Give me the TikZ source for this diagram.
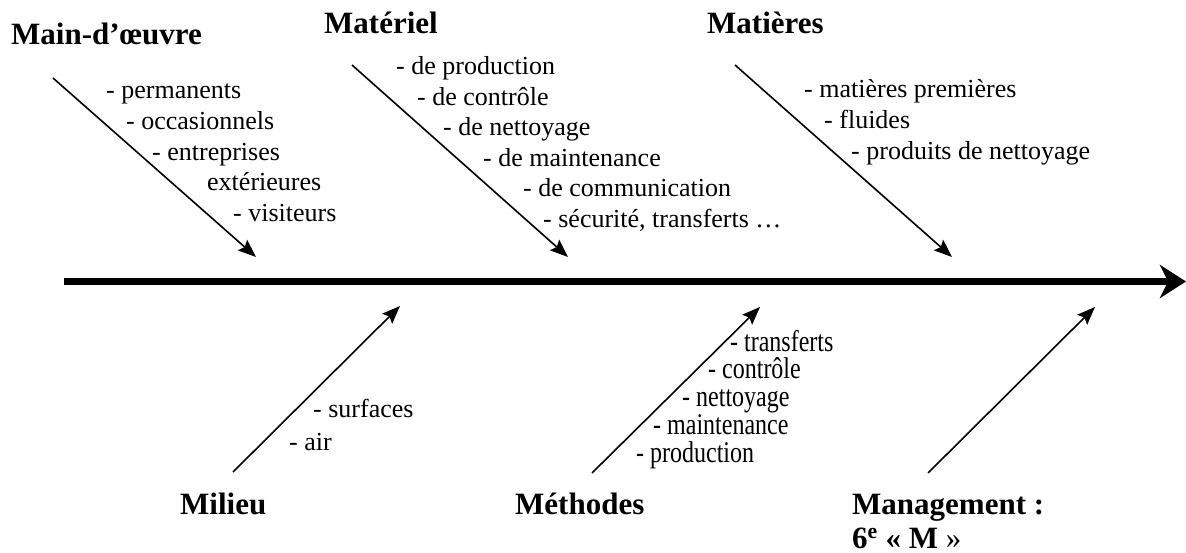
\documentclass[tikz,border=0pt]{standalone}
\usepackage{fontspec}
\setmainfont{Liberation Serif}
\newfontfamily\condfont[FakeStretch=0.8]{Liberation Serif}
\usetikzlibrary{arrows.meta}
\begin{document}
\begin{tikzpicture}[x=1pt,y=-1pt,
  title/.style={anchor=base west,inner sep=0pt,font=\fontsize{31}{35.6}\selectfont\bfseries},
  item/.style={anchor=base west,inner sep=0pt,font=\fontsize{26}{30}\selectfont},
  citem/.style={anchor=base west,inner sep=0pt,font=\fontsize{30}{30}\condfont},
  branch/.style={line width=1.6pt,-{Stealth[length=18pt,width=14pt,inset=3pt]}},
  spine/.style={line width=6.5pt,-{Stealth[length=26pt,width=33pt,inset=8pt]}}]
\useasboundingbox (0,0) rectangle (1186,553);

% titles
\node[title] (mo) at (11,45) {Main-d’œuvre};
\node[title] (mat) at (324,34) {Matériel};
\node[title] (mp) at (707,34) {Matières};
\node[title] (mil) at (180,514) {Milieu};
\node[title] (met) at (515,514) {Méthodes};
\node[title] (man) at (852,514) {Management :};
\node[title] (man2) at (852,548) {6\textsuperscript{e} « M \textmd{»}};

% Main-d'oeuvre items
\node[item] (mo1) at (106,98.3) {- permanents};
\node[item] (mo2) at (126,129.3) {- occasionnels};
\node[item] (mo3) at (152,160.7) {- entreprises};
\node[item] (mo4) at (207,191) {extérieures};
\node[item] (mo5) at (233,221.7) {- visiteurs};

% Materiel items
\node[item] (ma1) at (396,75) {- de production};
\node[item] (ma2) at (417,106) {- de contrôle};
\node[item] (ma3) at (443,136) {- de nettoyage};
\node[item] (ma4) at (483,167) {- de maintenance};
\node[item] (ma5) at (523,197) {- de communication};
\node[item] (ma6) at (543,228) {- sécurité, transferts …};

% Matieres items
\node[item] (mp1) at (804,98) {- matières premières};
\node[item] (mp2) at (824,129) {- fluides};
\node[item] (mp3) at (851,160) {- produits de nettoyage};

% Milieu items
\node[item] (mi1) at (313,417) {- surfaces};
\node[item] (mi2) at (289,450) {- air};

% Methodes items
\node[citem] (me1) at (730,351) {- transferts};
\node[citem] (me2) at (708,378) {- contrôle};
\node[citem] (me3) at (682,406) {- nettoyage};
\node[citem] (me4) at (653,434) {- maintenance};
\node[citem] (me5) at (636,462) {- production};

% arrow end points
\coordinate (moS) at (53,78);   \coordinate (moT) at (256,257);
\coordinate (maS) at (352,65);  \coordinate (maT) at (568,257);
\coordinate (mpS) at (735,65);  \coordinate (mpT) at (952,257);
\coordinate (miS) at (233,472); \coordinate (miT) at (400,306);
\coordinate (meS) at (592,473); \coordinate (meT) at (760,307);
\coordinate (mnS) at (928,473); \coordinate (mnT) at (1095,307);
\coordinate (spL) at (64,281.5); \coordinate (spR) at (1186,281.5);

\draw[spine] (spL) -- (spR);
\draw[branch] (moS) -- (moT);
\draw[branch] (maS) -- (maT);
\draw[branch] (mpS) -- (mpT);
\draw[branch] (miS) -- (miT);
\draw[branch] (meS) -- (meT);
\draw[branch] (mnS) -- (mnT);
\end{tikzpicture}
\end{document}
